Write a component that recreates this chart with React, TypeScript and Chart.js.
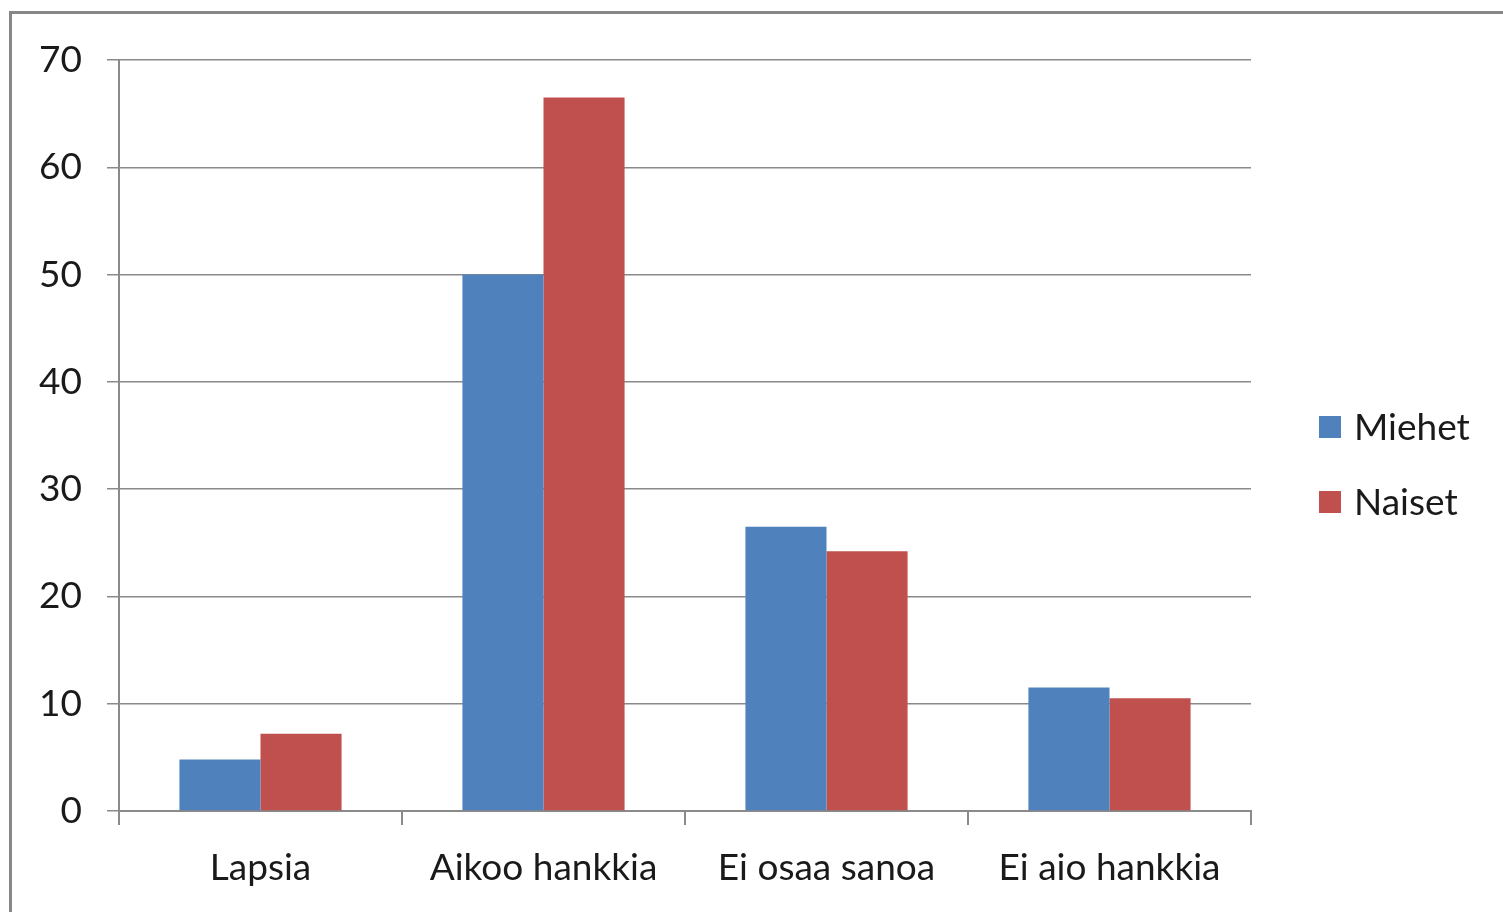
import React, { useEffect, useRef } from "react";
import { Chart, registerables } from "chart.js";

Chart.register(...registerables);

const categories = ["Lapsia", "Aikoo hankkia", "Ei osaa sanoa", "Ei aio hankkia"];
const seriesNames = ["Miehet", "Naiset"];
const miehet = [4.8, 50.0, 26.5, 11.5];
const naiset = [7.2, 66.5, 24.2, 10.5];
const colors = ["#4F81BD", "#C0504D"];
const yMin = 0;
const yMax = 70;
const yStep = 10;

const FONT = "Lato, 'Open Sans', sans-serif";
const FONT_SIZE = 37;
const GRID = "#8a8a8a";

const framePlugin = {
  id: "frame",
  beforeDraw(chart: any) {
    const ctx = chart.ctx;
    ctx.save();
    ctx.fillStyle = "#ffffff";
    ctx.fillRect(0, 0, chart.width, chart.height);
    ctx.fillStyle = "#878787";
    ctx.fillRect(9, 11, chart.width, 3);
    ctx.fillRect(9, 11, 3, chart.height);
    ctx.restore();
  },
};

const legendPlugin = {
  id: "customLegend",
  afterDraw(chart: any) {
    const ctx = chart.ctx;
    const area = chart.chartArea;
    const midY = (area.top + area.bottom) / 2;
    const x = area.right + 68;
    ctx.save();
    ctx.font = `${FONT_SIZE}px ${FONT}`;
    ctx.textBaseline = "middle";
    ctx.textAlign = "left";
    chart.data.datasets.forEach((ds: any, i: number) => {
      const cy = midY + 29 + (i - 0.5) * 75;
      ctx.fillStyle = ds.backgroundColor;
      ctx.fillRect(x, cy - 11, 22, 22);
      ctx.fillStyle = "#1a1a1a";
      ctx.fillText(ds.label, x + 35, cy + 1);
    });
    ctx.restore();
  },
};

export default function App() {
  const ref = useRef<HTMLCanvasElement | null>(null);

  useEffect(() => {
    if (!ref.current) return;
    const chart = new Chart(ref.current, {
      type: "bar",
      data: {
        labels: categories,
        datasets: [
          { label: seriesNames[0], data: miehet, backgroundColor: colors[0] },
          { label: seriesNames[1], data: naiset, backgroundColor: colors[1] },
        ],
      },
      options: {
        responsive: false,
        animation: false,
        devicePixelRatio: 1,
        layout: { padding: { top: 60, right: 252, left: 0, bottom: 0 } },
        datasets: {
          bar: { barPercentage: 1, categoryPercentage: 0.573, borderWidth: 0 },
        },
        plugins: {
          legend: { display: false },
          tooltip: { enabled: false },
        },
        scales: {
          x: {
            grid: {
              display: true,
              drawOnChartArea: false,
              drawTicks: true,
              tickLength: 14,
              color: GRID,
              lineWidth: 2,
              offset: true,
            },
            border: { display: true, color: GRID, width: 2 },
            ticks: {
              color: "#1a1a1a",
              font: { family: FONT, size: FONT_SIZE },
              padding: 21,
              maxRotation: 0,
            },
            afterFit(scale: any) {
              scale.height = 101;
            },
          },
          y: {
            min: yMin,
            max: yMax,
            grid: {
              color: GRID,
              lineWidth: 1.5,
              tickLength: 12,
              drawTicks: true,
            },
            border: { display: true, color: GRID, width: 2 },
            ticks: {
              stepSize: yStep,
              color: "#1a1a1a",
              font: { family: FONT, size: FONT_SIZE },
              padding: 25,
            },
            afterFit(scale: any) {
              scale.width = 119;
            },
          },
        },
      },
      plugins: [framePlugin, legendPlugin],
    });
    return () => chart.destroy();
  }, []);

  return (
    <div style={{ position: "fixed", left: 0, top: 0, width: 1503, height: 912, background: "#fff" }}>
      <canvas ref={ref} width={1503} height={912} />
    </div>
  );
}
